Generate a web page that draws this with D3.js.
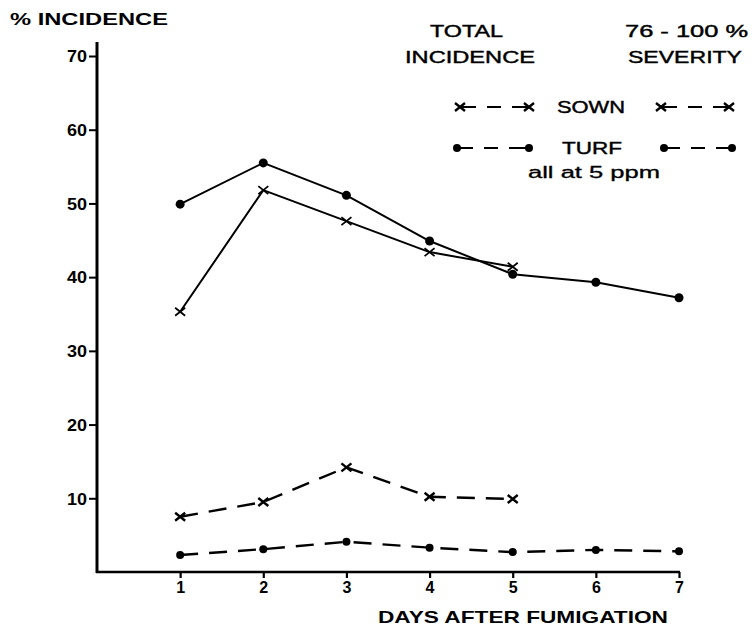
<!DOCTYPE html>
<html>
<head>
<meta charset="utf-8">
<script src="https://cdn.jsdelivr.net/npm/d3@7"></script>
<style>
  html, body { margin: 0; padding: 0; background: #fff; }
  svg { display: block; }
  text { font-family: "Liberation Sans", Arial, Helvetica, sans-serif; fill: #000; }
</style>
</head>
<body>
<svg id="chart" width="752" height="628"></svg>
<script>
// Days after fumigation
const days = [1, 2, 3, 4, 5, 6, 7];
const sownDays = [1, 2, 3, 4, 5];

// Total incidence (%)
const totalSown = [35.3, 51.8, 47.6, 43.4, 41.4];
const totalTurf = [49.9, 55.5, 51.1, 44.9, 40.4, 39.3, 37.2];

// Incidence at 76 - 100 % severity
const severeSown = [7.5, 9.5, 14.2, 10.2, 9.9];
const severeTurf = [2.3, 3.1, 4.1, 3.3, 2.7, 3.0, 2.8];

const yTicks = [10, 20, 30, 40, 50, 60, 70];

const svg = d3.select("#chart");

const x = d3.scaleLinear().domain([0, 7]).range([97, 679]);
const y = d3.scaleLinear().domain([0, 70]).range([572, 56]);

// ---- Axes ----
const yAxis = d3.axisLeft(y).tickValues(yTicks).tickFormat(d3.format("d"))
  .tickSize(8).tickPadding(2).tickSizeOuter(0);
const gy = svg.append("g").attr("transform", `translate(${x(0)},0)`).call(yAxis);
gy.select(".domain").remove();
gy.selectAll(".tick line").attr("stroke", "#000").attr("stroke-width", 2);
gy.selectAll(".tick text")
  .attr("font-size", 16).attr("font-weight", "bold")
  .attr("dy", "0.36em").attr("fill", "#000")
  .attr("textLength", 20).attr("lengthAdjust", "spacingAndGlyphs");

const xAxis = d3.axisBottom(x).tickValues(days).tickFormat(d3.format("d"))
  .tickSize(6).tickPadding(4).tickSizeOuter(0);
const gx = svg.append("g").attr("transform", `translate(0,${y(0)})`).call(xAxis);
gx.select(".domain").remove();
gx.selectAll(".tick line").attr("stroke", "#000").attr("stroke-width", 2.2);
gx.selectAll(".tick text")
  .attr("font-size", 16).attr("font-weight", "bold").attr("fill", "#000");

// axis lines
svg.append("line")
  .attr("x1", x(0)).attr("x2", x(0))
  .attr("y1", y(0) + 1).attr("y2", y(71.9))
  .attr("stroke", "#000").attr("stroke-width", 3);
svg.append("line")
  .attr("x1", x(0) - 1).attr("x2", x(7) + 1)
  .attr("y1", y(0)).attr("y2", y(0))
  .attr("stroke", "#000").attr("stroke-width", 2.6);

// ---- Series ----
const line = d3.line().x(d => x(d[0])).y(d => y(d[1]));
const pairs = (ds, vs) => ds.map((d, i) => [d, vs[i]]);

function drawMarker(g, cx, cy, marker, small) {
  if (marker === "dot") {
    g.append("circle").attr("cx", cx).attr("cy", cy).attr("r", small ? 4 : 4.5).attr("fill", "#000");
  } else {
    const s = 5;
    g.append("path")
      .attr("d", `M${cx - s},${cy - s * 0.8}L${cx + s},${cy + s * 0.8}M${cx - s},${cy + s * 0.8}L${cx + s},${cy - s * 0.8}`)
      .attr("stroke", "#000").attr("stroke-width", small ? 2.4 : 1.8).attr("fill", "none");
  }
}

function drawSeries(data, dashed, marker) {
  svg.append("path")
    .datum(data)
    .attr("d", line)
    .attr("fill", "none")
    .attr("stroke", "#000")
    .attr("stroke-width", dashed ? 2.4 : 2)
    .attr("stroke-dasharray", dashed ? "18,11" : null)
    .attr("stroke-linejoin", "round");
  const g = svg.append("g");
  data.forEach(d => drawMarker(g, x(d[0]), y(d[1]), marker, dashed));
}

drawSeries(pairs(days, totalTurf), false, "dot");
drawSeries(pairs(sownDays, totalSown), false, "cross");
drawSeries(pairs(sownDays, severeSown), true, "cross");
drawSeries(pairs(days, severeTurf), true, "dot");

// ---- Titles ----
function label(txt, tx, ty, size, weight, len, anchor) {
  const t = svg.append("text")
    .attr("x", tx).attr("y", ty)
    .attr("font-size", size)
    .attr("font-weight", weight)
    .attr("text-anchor", anchor || "start")
    .text(txt);
  if (len) t.attr("textLength", len).attr("lengthAdjust", "spacingAndGlyphs");
  return t;
}

label("% INCIDENCE", 10, 25, 17, "bold", 158);
label("DAYS AFTER FUMIGATION", 378, 623, 17, "bold", 290);

label("TOTAL", 430, 37, 16, "normal", 73).attr("stroke", "#000").attr("stroke-width", 0.4);
label("INCIDENCE", 405, 63, 16, "normal", 130).attr("stroke", "#000").attr("stroke-width", 0.4);
label("76 - 100 %", 625, 37, 16, "normal", 123).attr("stroke", "#000").attr("stroke-width", 0.4);
label("SEVERITY", 628, 63, 16, "normal", 114).attr("stroke", "#000").attr("stroke-width", 0.4);

// ---- Legend ----
const legendRows = [
  { name: "SOWN", marker: "cross", y: 107, tx: 557, len: 68, left: [460, 529], right: [661, 729] },
  { name: "TURF", marker: "dot",   y: 148, tx: 562, len: 60, left: [457, 529], right: [664, 732] }
];
legendRows.forEach(r => {
  [r.left, r.right].forEach(([a, b]) => {
    svg.append("line")
      .attr("x1", a).attr("x2", b).attr("y1", r.y).attr("y2", r.y)
      .attr("stroke", "#000").attr("stroke-width", 2.2)
      .attr("stroke-dasharray", "16,11,14,11,40");
    drawMarker(svg, a, r.y, r.marker, true);
    drawMarker(svg, b, r.y, r.marker, true);
  });
  label(r.name, r.tx, r.y + 6, 16, "normal", r.len).attr("stroke", "#000").attr("stroke-width", 0.4);
});
label("all at 5 ppm", 528, 178, 16, "normal", 132).attr("stroke", "#000").attr("stroke-width", 0.3);
</script>
</body>
</html>
